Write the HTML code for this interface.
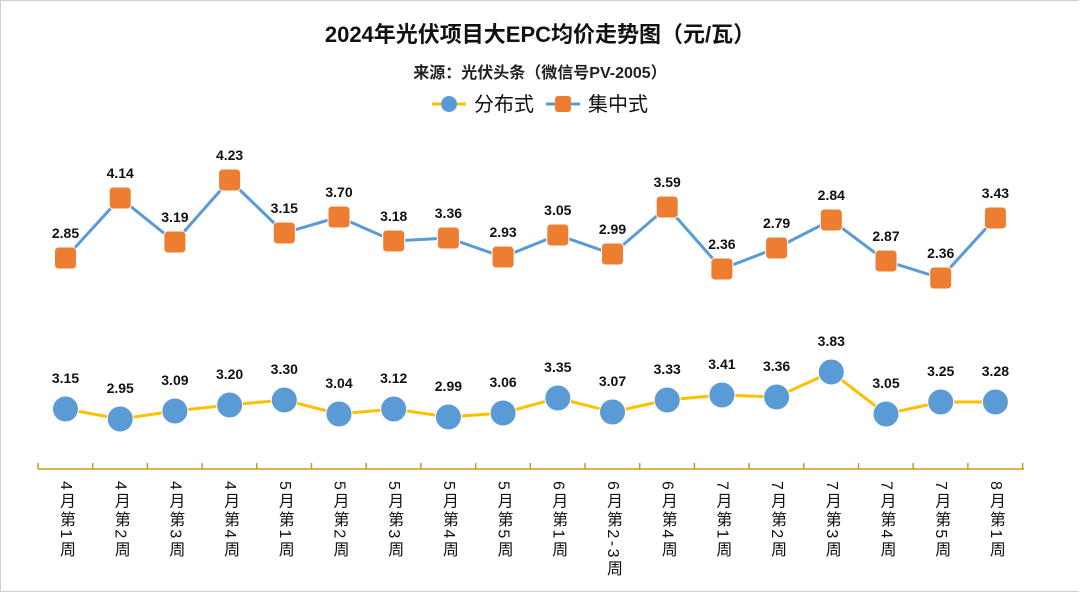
<!DOCTYPE html>
<html><head><meta charset="utf-8"><style>
body{margin:0;width:1080px;height:593px;background:#fff;overflow:hidden;font-family:"Liberation Sans","Noto Sans CJK SC",sans-serif}
.frame{position:absolute;left:0;top:0;width:1078px;height:590px;border:1px solid #d0d0d0;border-right:none}
.t{position:absolute;left:0;width:1080px;text-align:center;color:#111}
.xl{position:absolute;top:481px;writing-mode:vertical-rl;font-size:16px;letter-spacing:2.5px;color:#111;line-height:17px;transform:translateX(-50%)}
</style></head><body>
<div class="frame"></div>
<div class="t" style="top:17px;font-size:22px;font-weight:bold">2024年光伏项目大EPC均价走势图（元/瓦）</div>
<div class="t" style="top:59px;font-size:16px;font-weight:bold;color:#222">来源：光伏头条（微信号PV-2005）</div>
<svg width="1080" height="593" style="position:absolute;left:0;top:0">
<line x1="432" y1="104" x2="466" y2="104" stroke="#ffc000" stroke-width="3"/>
<circle cx="449" cy="104" r="8" fill="#5b9bd5"/>
<text x="474" y="111" font-size="20" fill="#111" font-family="Liberation Sans,Noto Sans CJK SC,sans-serif">分布式</text>
<line x1="546" y1="104" x2="580" y2="104" stroke="#5b9bd5" stroke-width="3"/>
<rect x="555" y="96" width="16" height="16" rx="3" fill="#ed7d31"/>
<text x="588" y="111" font-size="20" fill="#111" font-family="Liberation Sans,Noto Sans CJK SC,sans-serif">集中式</text>
<g id="g"></g>
</svg>
<div id="xl"></div>
<script>
var X=i=>65.5+54.7*i;
var oy=[258,198,242,180,233,217,241,238,257,235,254,207,269,248,220,261,278,218];
var ov=["2.85","4.14","3.19","4.23","3.15","3.70","3.18","3.36","2.93","3.05","2.99","3.59","2.36","2.79","2.84","2.87","2.36","3.43"];
var by=[409,419,411,405,400,414,409,417,413,398,412,400,395,397,372,414,402,402];
var bv=["3.15","2.95","3.09","3.20","3.30","3.04","3.12","2.99","3.06","3.35","3.07","3.33","3.41","3.36","3.83","3.05","3.25","3.28"];
var lb=["4月第1周","4月第2周","4月第3周","4月第4周","5月第1周","5月第2周","5月第3周","5月第4周","5月第5周","6月第1周","6月第2-3周","6月第4周","7月第1周","7月第2周","7月第3周","7月第4周","7月第5周","8月第1周"];
var s='';
s+='<polyline fill="none" stroke="#5b9bd5" stroke-width="3" points="'+oy.map((y,i)=>X(i)+','+y).join(' ')+'"/>';
s+='<polyline fill="none" stroke="#ffc000" stroke-width="3" points="'+by.map((y,i)=>X(i)+','+y).join(' ')+'"/>';
s+='<line x1="38" y1="469" x2="1024" y2="469" stroke="#c99a1a" stroke-width="1.5"/>';
var h='';
for(var i=0;i<18;i++){
 s+='<rect x="'+(X(i)-11)+'" y="'+(oy[i]-11)+'" width="22" height="22" rx="4" fill="#ed7d31" stroke="#fff" stroke-width="1"/>';
 s+='<circle cx="'+X(i)+'" cy="'+by[i]+'" r="13" fill="#5b9bd5" stroke="#fff" stroke-width="1"/>';
 s+='<text x="'+X(i)+'" y="'+(oy[i]-20)+'" text-anchor="middle" font-size="14" font-weight="bold" fill="#111" font-family="Liberation Sans,sans-serif">'+ov[i]+'</text>';
 s+='<text x="'+X(i)+'" y="'+(by[i]-26)+'" text-anchor="middle" font-size="14" font-weight="bold" fill="#111" font-family="Liberation Sans,sans-serif">'+bv[i]+'</text>';
 h+='<div class="xl" style="left:'+X(i)+'px">'+lb[i]+'</div>';
}
for(var i=0;i<=18;i++){var x=38+54.7*i;s+='<line x1="'+x+'" y1="463" x2="'+x+'" y2="469" stroke="#c99a1a" stroke-width="1.5"/>';}
document.getElementById('g').innerHTML=s;
document.getElementById('xl').innerHTML=h;
</script>
</body></html>
